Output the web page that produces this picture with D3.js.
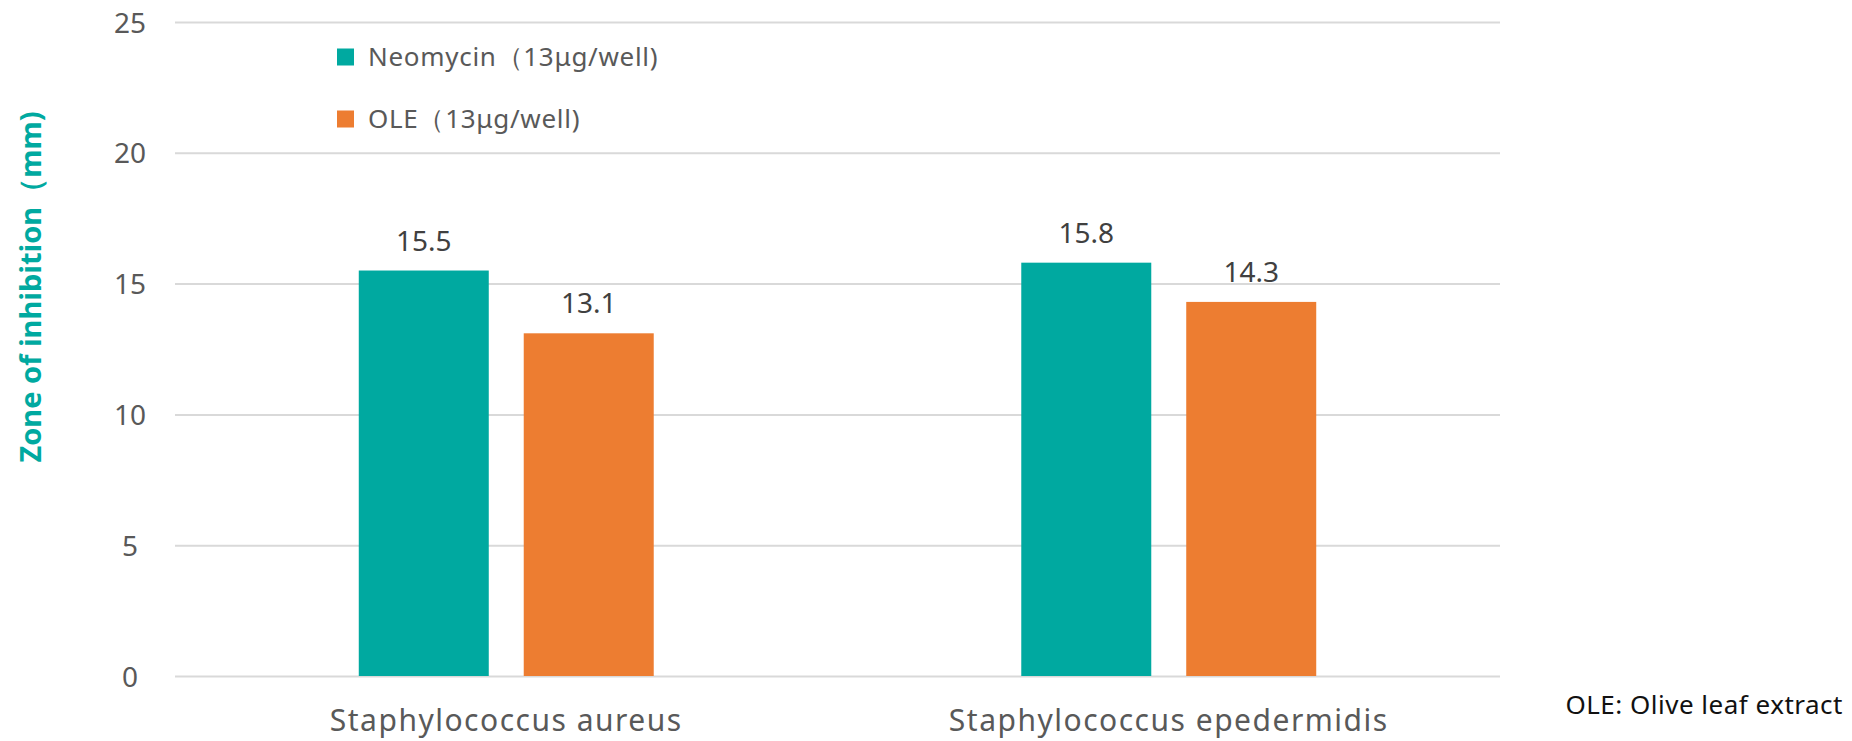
<!DOCTYPE html>
<html><head><meta charset="utf-8">
<script src="https://cdn.jsdelivr.net/npm/d3@7"></script>
<style>body{margin:0;background:#fff;} svg{display:block;font-family:"Noto Sans",sans-serif;}</style>
</head><body><svg id="c" width="1852" height="741"></svg>
<script>
const categories = ["Staphylococcus aureus", "Staphylococcus epedermidis"];
const seriesNames = ["Neomycin（13μg/well)", "OLE（13μg/well)"];
const neomycin = [15.5, 15.8];
const ole = [13.1, 14.3];
const yTicks = [0, 5, 10, 15, 20, 25];
const colors = ["#00A9A0", "#ED7D31"];
const yTitle = "Zone of inhibition（mm)";
const footnote = "OLE: Olive leaf extract";

const svg = d3.select("#c");
const L = 175, R = 1500, T = 22, B = 676;
const x = d3.scaleBand().domain(categories).range([L, R]).padding(0);
const xs = d3.scaleBand().domain(seriesNames).range([0, x.bandwidth()]).paddingInner(0.212).paddingOuter(1.114);
const y = d3.scaleLinear().domain([0, 25]).range([B, T]);

// grid
const yAxis = d3.axisLeft(y).tickValues(yTicks).tickSize(-(R - L)).tickPadding(30).tickFormat(d3.format("d"));
const ga = svg.append("g").attr("transform", `translate(${L},0)`).call(yAxis);
ga.select(".domain").remove();
ga.selectAll(".tick line").attr("stroke", "#d9d9d9").attr("stroke-width", 2);
ga.selectAll(".tick text").attr("fill", "#595959").attr("font-size", 28).attr("font-family", "Noto Sans").attr("text-anchor", "middle").attr("x", -45).attr("dy", "0.36em");

const data = categories.map((c, i) => ({cat: c, vals: [neomycin[i], ole[i]]}));
const g = svg.append("g").selectAll("g").data(data).join("g").attr("transform", d => `translate(${x(d.cat)},0)`);
g.selectAll("rect").data(d => d.vals.map((v, j) => ({v, s: seriesNames[j], j})))
  .join("rect")
  .attr("x", d => xs(d.s)).attr("width", xs.bandwidth())
  .attr("y", d => y(d.v)).attr("height", d => y(0) - y(d.v))
  .attr("fill", d => colors[d.j]);
g.selectAll("text.val").data(d => d.vals.map((v, j) => ({v, s: seriesNames[j], j})))
  .join("text").attr("class", "val")
  .attr("x", d => xs(d.s) + xs.bandwidth() / 2).attr("y", d => y(d.v) - 20)
  .attr("text-anchor", "middle").attr("font-size", 28).attr("fill", "#404040")
  .text(d => d.v.toFixed(1));

// x labels
const xAxis = d3.axisBottom(x).tickSize(0).tickPadding(0);
const gx = svg.append("g").attr("transform", `translate(0,${B})`).call(xAxis);
gx.select(".domain").remove();
gx.selectAll(".tick text").attr("font-size", 30).attr("font-family", "Noto Sans").attr("letter-spacing", 1.5).attr("fill", "#595959").attr("y", 55).attr("dy", 0);

// y title
svg.append("text").attr("transform", `translate(41,287) rotate(-90)`).attr("text-anchor", "middle")
  .attr("font-size", 29).attr("font-weight", "bold").attr("fill", "#00A9A0").text(yTitle);

// legend
const lg = svg.append("g").selectAll("g").data(seriesNames).join("g").attr("transform", (d, i) => `translate(337,${57 + i * 62})`);
lg.append("rect").attr("x", 0).attr("y", -8.5).attr("width", 17).attr("height", 17).attr("fill", (d, i) => colors[i]);
lg.append("text").attr("x", 31).attr("y", 0).attr("dy", "0.35em").attr("font-size", 26).attr("letter-spacing", 0.7).attr("fill", "#595959").text(d => d);

// footnote
svg.append("text").attr("x", 1843).attr("y", 714).attr("text-anchor", "end").attr("font-size", 26).attr("letter-spacing", 0.5).attr("fill", "#111").text(footnote);
</script></body></html>
